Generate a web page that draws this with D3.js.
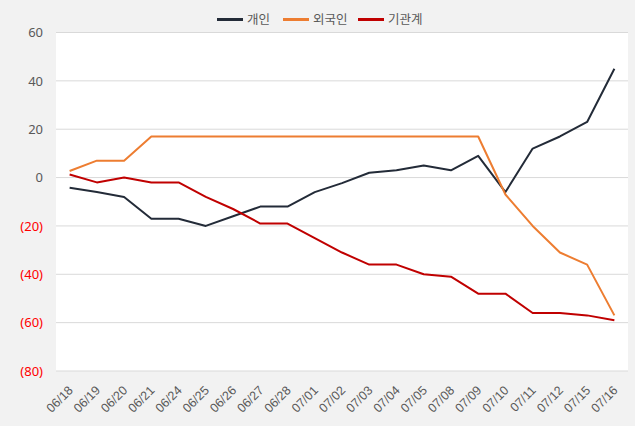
<!DOCTYPE html>
<html><head><meta charset="utf-8">
<script src="https://cdn.jsdelivr.net/npm/d3@7"></script>
<style>
html,body{margin:0;padding:0;background:#f2f2f2;}
svg{display:block;font-family:"Noto Sans","Noto Sans CJK KR",sans-serif;}
</style></head>
<body>
<script>
const categories = ["06/18","06/19","06/20","06/21","06/24","06/25","06/26","06/27","06/28","07/01","07/02","07/03","07/04","07/05","07/08","07/09","07/10","07/11","07/12","07/15","07/16"];
const individual = [-4.2,-6,-8,-17,-17,-20,-16,-12,-12,-6,-2.3,2,3,5,3,9,-6,12,17,23,45];
const foreign = [2.7,7,7,17,17,17,17,17,17,17,17,17,17,17,17,17,-7,-20,-31,-36,-57];
const institution = [1.3,-2,0,-2,-2,-8,-13,-19,-19,-25,-31,-36,-36,-40,-41,-48,-48,-56,-56,-57,-59];
const yTicks = [60,40,20,0,-20,-40,-60,-80];
const seriesNames = ["개인","외국인","기관계"];
const seriesColors = ["#232b38","#ed7d31","#c00000"];

const W = 635, H = 426;
const m = {left:56, right:7, top:32.5, bottom:55};
const svg = d3.select("body").append("svg").attr("width",W).attr("height",H);
svg.append("rect").attr("width",W).attr("height",H).attr("fill","#f2f2f2");

const x = d3.scaleBand().domain(categories).range([m.left, W-m.right]);
const y = d3.scaleLinear().domain([-80,60]).range([H-m.bottom, m.top]);

svg.append("rect").attr("x",m.left).attr("y",m.top)
  .attr("width",W-m.right-m.left).attr("height",(H-m.bottom)-m.top).attr("fill","#ffffff");

// gridlines
svg.append("g").selectAll("line").data(yTicks).join("line")
  .attr("x1",m.left).attr("x2",W-m.right)
  .attr("y1",d=>y(d)).attr("y2",d=>y(d))
  .attr("stroke","#d9d9d9").attr("stroke-width",1);

// y axis
const yAxis = d3.axisLeft(y).tickValues(yTicks).tickSize(0).tickPadding(13)
  .tickFormat(d => d<0 ? "("+Math.abs(d)+")" : String(d));
const yg = svg.append("g").attr("transform",`translate(${m.left},0)`).call(yAxis);
yg.select(".domain").remove();
yg.selectAll("text").attr("font-size",13).attr("fill",d=>d<0?"#ff0000":"#595959")
  .attr("font-family","'Noto Sans',sans-serif");

// x axis
const xAxis = d3.axisBottom(x).tickSize(0).tickPadding(0);
const xg = svg.append("g").attr("transform",`translate(0,${H-m.bottom})`).call(xAxis);
xg.select(".domain").remove();
xg.selectAll("text").attr("font-size",12.5).attr("fill","#595959")
  .attr("text-anchor","end").attr("y",0).attr("dy","0.35em")
  .attr("transform","translate(1,17) rotate(-45)");

// lines
const data = [individual, foreign, institution];
const line = d3.line().x((d,i)=>x(categories[i])+x.bandwidth()/2).y(d=>y(d));
svg.append("g").selectAll("path").data(data).join("path")
  .attr("d",line).attr("fill","none")
  .attr("stroke",(d,i)=>seriesColors[i]).attr("stroke-width",2)
  .attr("stroke-linejoin","round");

// legend
const legX = [217, 283, 358];
const lg = svg.append("g");
seriesNames.forEach((n,i)=>{
  lg.append("line").attr("x1",legX[i]).attr("x2",legX[i]+26).attr("y1",19.5).attr("y2",19.5)
    .attr("stroke",seriesColors[i]).attr("stroke-width",3);
  lg.append("text").attr("x",legX[i]+30).attr("y",19.5).attr("dy","0.35em")
    .attr("font-size",12.5).attr("fill","#595959")
    .attr("font-family","'Noto Sans CJK KR',sans-serif").text(n);
});
</script>
</body></html>
